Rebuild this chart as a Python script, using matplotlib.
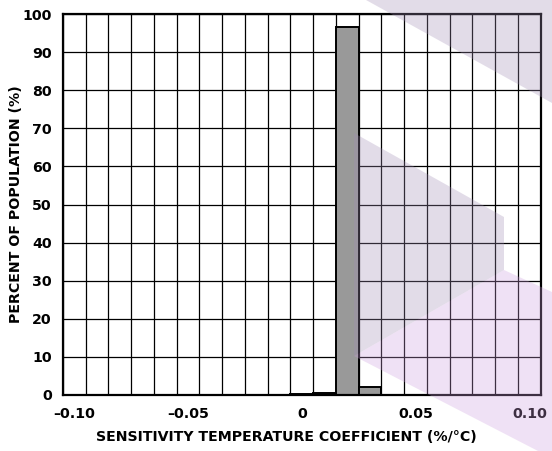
import numpy as np
import matplotlib.pyplot as plt
from matplotlib.patches import Polygon

# histogram bins (centre of each 0.01 wide bin) and percent of population
bin_centers = np.round(np.arange(-0.10, 0.1001, 0.01), 2)
percent = np.zeros(len(bin_centers))
percent[list(bin_centers).index(0.00)] = 0.2
percent[list(bin_centers).index(0.01)] = 0.6
percent[list(bin_centers).index(0.02)] = 96.6
percent[list(bin_centers).index(0.03)] = 2.0

xtick_vals = [-0.10, -0.05, 0, 0.05, 0.10]
xtick_labels = ['\u20130.10', '\u20130.05', '0', '0.05', '0.10']
ytick_vals = list(range(0, 101, 10))

plt.rcParams['font.family'] = ['DejaVu Sans']
plt.rcParams['font.weight'] = 'bold'
FS = 10.2

W, H = 552, 451
fig = plt.figure(figsize=(W / 100, H / 100), dpi=100)
ax = fig.add_axes([63 / W, 1 - 395 / H, (540.7 - 63) / W, (395 - 14) / H])

ax.bar(bin_centers, percent, width=0.01, color='#999999', edgecolor='black',
       linewidth=1.4, zorder=3)

ax.set_xlim(-0.105, 0.105)
ax.set_ylim(0, 100)
ax.set_xticks(xtick_vals)
ax.set_xticklabels(xtick_labels)
ax.set_xticks(np.arange(-0.105, 0.106, 0.01), minor=True)
ax.set_yticks(ytick_vals)
ax.tick_params(axis='both', which='both', length=0, labelsize=FS)
ax.tick_params(axis='x', pad=9)
ax.tick_params(axis='y', pad=8)
ax.grid(True, which='minor', axis='x', color='black', linewidth=0.9, zorder=1)
ax.grid(True, which='major', axis='y', color='black', linewidth=0.9, zorder=1)
ax.set_axisbelow(True)
for s in ax.spines.values():
    s.set_linewidth(1.6)
    s.set_zorder(4)

ax.set_xlabel('SENSITIVITY TEMPERATURE COEFFICIENT (%/\u00b0C)', fontsize=FS,
              fontweight='bold')
ax.xaxis.set_label_coords((286.5 - 63) / (540.7 - 63), -(430 - 395) / (395 - 14))
ax.set_ylabel('PERCENT OF POPULATION (%)', fontsize=FS, fontweight='bold')
ax.yaxis.set_label_coords(-(63 - 23) / (540.7 - 63), 0.5)


# faint logo watermark, given in pixel coords of the figure
def wm(pts, color, alpha):
    xy = [(x / W, 1 - y / H) for x, y in pts]
    fig.add_artist(Polygon(xy, closed=True, transform=fig.transFigure,
                           facecolor=color, edgecolor='none', alpha=alpha,
                           zorder=10))


wm([(366, 0), (552, 0), (552, 103)], '#a28eb6', 0.3)
wm([(354, 133), (504, 217), (504, 270), (354, 356)], '#a28eb6', 0.3)
wm([(354, 356), (504, 270), (552, 292), (552, 451), (538, 451)], '#cd9ede', 0.3)

fig.savefig('out.png', dpi=100)
